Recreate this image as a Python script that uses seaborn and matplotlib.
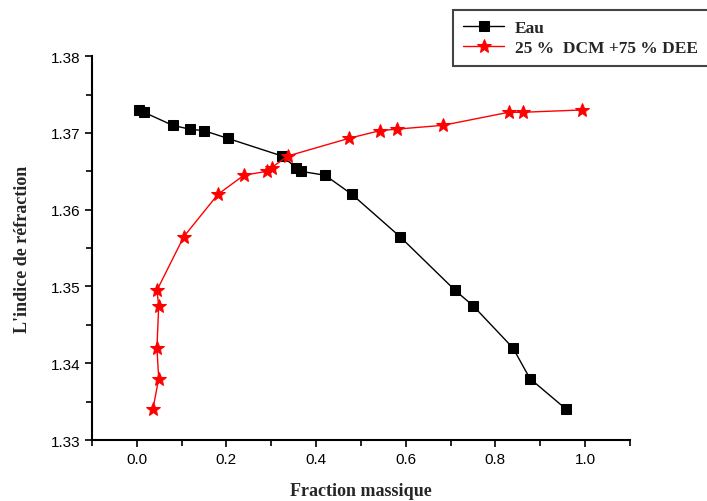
import matplotlib
matplotlib.use("Agg")
import matplotlib.pyplot as plt
from matplotlib.ticker import MultipleLocator
import seaborn as sns
import pandas as pd

# Données : indice de réfraction en fonction de la fraction massique
eau_x = [0.004, 0.016, 0.080, 0.118, 0.150, 0.203, 0.324, 0.355, 0.366,
         0.420, 0.480, 0.587, 0.710, 0.750, 0.839, 0.877, 0.958]
eau_y = [1.3730, 1.3727, 1.3710, 1.3705, 1.3703, 1.3693, 1.3670, 1.3655, 1.3650,
         1.3645, 1.3620, 1.3565, 1.3495, 1.3475, 1.3420, 1.3380, 1.3340]

mel_x = [0.036, 0.049, 0.045, 0.049, 0.045, 0.105, 0.181, 0.239, 0.290,
         0.301, 0.337, 0.473, 0.542, 0.580, 0.683, 0.830, 0.862, 0.993]
mel_y = [1.3340, 1.3380, 1.3420, 1.3475, 1.3495, 1.3565, 1.3620, 1.3645, 1.3650,
         1.3655, 1.3670, 1.3693, 1.3703, 1.3705, 1.3710, 1.3727, 1.3727, 1.3730]

series_names = ["Eau", "25 %  DCM +75 % DEE"]

df_eau = pd.DataFrame({"x": eau_x, "y": eau_y})
df_mel = pd.DataFrame({"x": mel_x, "y": mel_y})

sns.set_style("ticks")
plt.rcParams['font.family'] = ['Liberation Sans', 'DejaVu Sans']

fig = plt.figure(figsize=(7.07, 5.02), dpi=100)
ax = fig.add_axes([0.130, 0.1215, 0.761, 0.7645])

# estimator=None : pas d'agrégation des x répétés
sns.lineplot(data=df_eau, x="x", y="y", sort=False, estimator=None, ax=ax,
             color="black", linewidth=1, marker="s", markersize=7,
             markeredgecolor="black", label=series_names[0])
sns.lineplot(data=df_mel, x="x", y="y", sort=False, estimator=None, ax=ax,
             color="red", linewidth=1, marker="*", markersize=10,
             markeredgecolor="red", label=series_names[1])

ax.set_xlim(-0.1, 1.1)
ax.set_ylim(1.33, 1.38)
ax.xaxis.set_major_locator(MultipleLocator(0.2))
ax.xaxis.set_minor_locator(MultipleLocator(0.1))
ax.yaxis.set_major_locator(MultipleLocator(0.01))
ax.yaxis.set_minor_locator(MultipleLocator(0.005))
ax.xaxis.set_major_formatter(matplotlib.ticker.FormatStrFormatter('%.1f'))
ax.yaxis.set_major_formatter(matplotlib.ticker.FormatStrFormatter('%.2f'))

ax.tick_params(which="major", direction="out", length=5, width=1.2,
               labelsize=11, color="black", labelcolor="black")
ax.tick_params(which="minor", direction="out", length=4, width=1.2, color="black")

for side in ["top", "right"]:
    ax.spines[side].set_visible(False)
for side in ["left", "bottom"]:
    ax.spines[side].set_linewidth(1.5)
    ax.spines[side].set_color("black")

ax.set_xlabel("Fraction massique", fontsize=13, fontweight="bold",
              family="Liberation Serif", labelpad=12)
ax.set_ylabel("L'indice de réfraction", fontsize=13, fontweight="bold",
              family="Liberation Serif", labelpad=14)

leg = ax.legend(loc="upper left", bbox_to_anchor=(0.641, 0.872, 0.45, 0.106),
                bbox_transform=fig.transFigure, mode="expand", frameon=True,
                fancybox=False, shadow=False, borderaxespad=0,
                handlelength=2.4, handletextpad=0.6,
                prop={"family": "Liberation Serif", "weight": "bold", "size": 12.5},
                borderpad=0.55, labelspacing=0.25)
leg.get_frame().set_edgecolor("#444444")
leg.get_frame().set_linewidth(1.5)
leg.get_frame().set_alpha(1)

fig.savefig("out.png", dpi=100)
